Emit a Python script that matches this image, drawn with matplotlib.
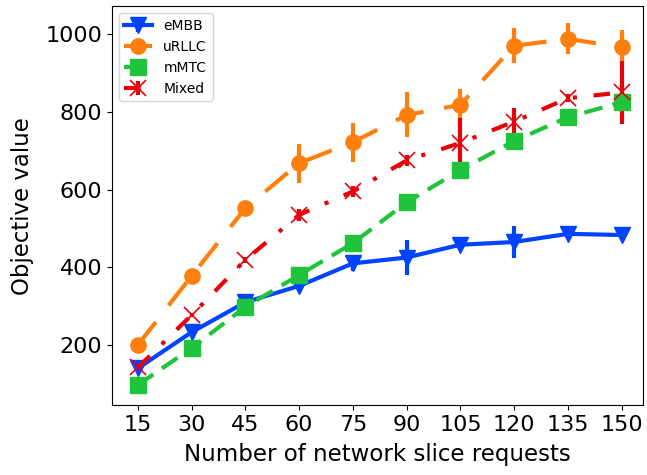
import numpy as np
import matplotlib
matplotlib.use("Agg")
import matplotlib.pyplot as plt

# Data
requests = [15, 30, 45, 60, 75, 90, 105, 120, 135, 150]

embb = [140, 233, 310, 352, 410, 425, 458, 465, 486, 483]
embb_err = [5, 5, 8, 10, 20, 45, 8, 40, 8, 5]

urllc = [200, 378, 552, 668, 722, 792, 818, 970, 988, 966]
urllc_err = [5, 5, 8, 50, 50, 58, 40, 45, 40, 45]

mmtc = [97, 192, 298, 380, 462, 567, 650, 725, 786, 825]
mmtc_err = [5, 5, 5, 5, 5, 5, 5, 5, 8, 8]

mixed = [142, 277, 419, 535, 595, 675, 720, 775, 835, 850]
mixed_err = [5, 5, 8, 15, 15, 15, 65, 35, 10, 80]

fig, ax = plt.subplots(figsize=(6.47, 4.75), dpi=100)

ax.errorbar(requests, embb, yerr=embb_err, color="#0044ff", linestyle="-",
            marker="v", markersize=11, linewidth=3, elinewidth=3, label="eMBB")
ax.errorbar(requests, urllc, yerr=urllc_err, color="#ff7f0e", linestyle=(0, (7, 5)),
            marker="o", markersize=11, linewidth=3, elinewidth=3, label="uRLLC")
ax.errorbar(requests, mmtc, yerr=mmtc_err, color="#1fc43c", linestyle=(0, (4.5, 2.5)),
            marker="s", markersize=11, linewidth=3, elinewidth=3, label="mMTC")
ax.errorbar(requests, mixed, yerr=mixed_err, color="#e8000b", linestyle=(0, (4, 4, 1, 4)),
            marker="x", markersize=12, markeredgewidth=1.2, linewidth=3,
            elinewidth=3, label="Mixed")

ax.set_xticks(requests)
ax.set_xlim(7.75, 156)
ax.set_ylim(45, 1072)
ax.tick_params(labelsize=16)
ax.set_xlabel("Number of network slice requests", fontsize=16.5, labelpad=6)
ax.set_ylabel("Objective value", fontsize=16.5, labelpad=8)
ax.legend(loc="upper left", fontsize=10)

fig.subplots_adjust(left=0.173, right=0.994, top=0.987, bottom=0.147)
plt.savefig("out.png", dpi=100, facecolor="white")
